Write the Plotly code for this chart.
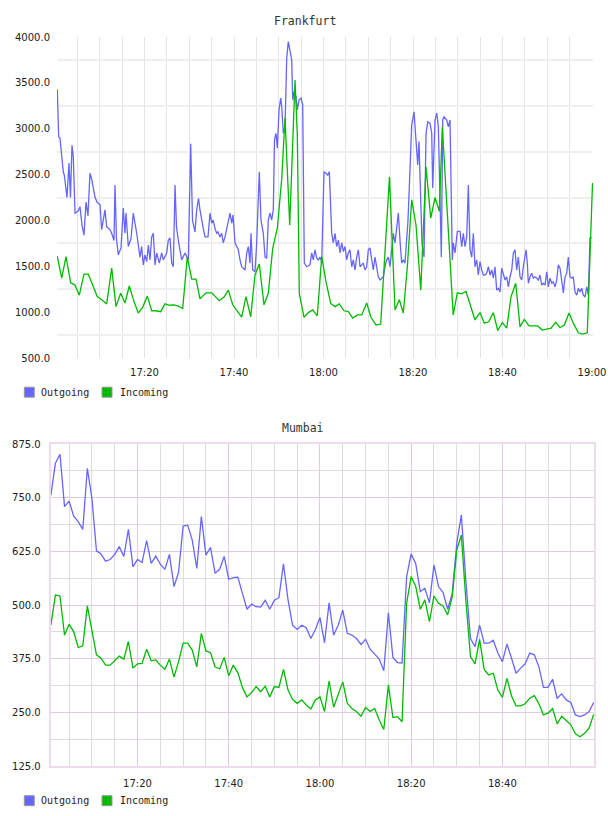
import pandas as pd
import plotly.graph_objects as go

# ---------------- data ----------------
BASE = "2024-01-01 17:00"

# Frankfurt, minutes after 17:00
fra_out_min = [0.51,0.83,1.12,1.50,1.85,2.08,2.39,2.68,3.13,3.46,
3.80,4.09,4.47,5.14,5.59,6.03,6.48,6.93,7.37,7.82,
8.20,8.94,9.39,10.06,10.44,11.17,11.55,12.29,12.67,13.18,
13.41,13.74,14.15,14.75,15.26,15.64,15.87,16.38,16.98,17.50,
18.26,18.99,19.37,19.73,20.11,20.49,20.85,21.23,21.61,21.97,
22.35,22.73,23.31,23.84,24.20,24.96,25.32,25.70,26.08,26.44,
26.82,27.15,27.55,28.31,29.05,29.79,30.32,30.73,31.28,31.66,
32.07,32.40,33.07,33.52,34.19,34.64,35.02,35.31,35.75,36.13,
36.42,36.87,37.25,37.61,37.99,38.73,39.11,39.49,39.78,40.22,
40.60,40.96,41.34,41.72,42.46,42.84,43.20,43.58,43.80,44.18,
44.69,45.07,45.65,46.03,46.55,46.93,47.31,47.66,48.04,48.42,
48.78,49.05,49.39,49.68,50.06,50.44,50.66,51.02,51.40,51.78,
52.13,52.51,52.89,53.12,53.41,53.85,54.15,54.53,54.97,55.35,
55.71,56.25,56.98,57.36,57.72,58.10,58.48,58.84,59.22,59.60,
60.11,60.56,60.94,61.30,61.83,62.19,62.57,62.95,63.31,63.69,
64.07,64.43,64.80,65.18,65.54,65.92,66.30,66.66,67.04,67.42,
67.78,68.16,68.89,69.27,69.65,70.01,70.39,70.77,71.13,71.51,
71.89,72.25,72.63,73.01,73.36,73.74,74.12,74.48,74.86,75.24,
75.60,75.98,76.36,76.72,77.09,77.47,77.83,78.21,78.88,79.71,
80.22,80.67,81.05,81.34,81.68,82.01,82.46,82.91,83.29,83.80,
84.18,84.40,84.92,85.30,85.66,86.03,86.33,86.64,86.93,87.53,
87.89,88.27,88.78,89.01,89.39,89.90,90.50,90.88,91.24,91.62,
92.00,92.36,92.74,93.12,93.48,93.85,94.23,94.59,94.97,95.35,
95.71,96.09,96.47,96.83,97.21,97.59,97.95,98.32,98.70,99.06,
99.44,99.82,100.18,100.56,100.94,101.30,101.68,102.06,102.42,102.79,
103.17,103.53,103.91,104.29,104.65,105.25,105.54,105.77,106.15,106.53,
106.88,107.26,107.64,108.00,108.38,108.76,109.12,109.50,109.88,110.24,
110.61,110.99,111.35,111.73,112.11,112.47,112.85,113.23,113.59,113.97,
114.35,114.70,115.08,115.46,115.82,116.20,116.58,116.94,117.32,117.70,
118.06,118.44,118.82,119.18,119.55,119.93]
fra_out_val = [3430,2913,2895,2660,2530,2495,2330,2250,2625,2250,
2820,2695,2080,2100,2150,1950,1840,2200,2050,2515,
2450,2255,2200,2170,1900,2115,1930,1900,1860,1780,
2385,1800,1625,1700,2135,1860,2080,1715,1800,2080,
1860,1600,1715,1515,1625,1550,1730,1570,1820,1860,
1515,1645,1535,1645,1570,1645,1785,1810,1535,1495,
2385,1930,1785,1570,1645,1570,2835,2000,1875,2115,
2240,2115,1930,1820,1820,2080,1970,2005,1915,1860,
1875,1820,1860,1755,1820,2005,2080,1970,2060,1755,
1715,1680,1570,1495,1460,1645,1715,1535,1860,1460,
1440,1755,2530,2000,1860,1600,1590,2005,2080,2005,
2115,2880,2950,2790,3205,3335,3240,2950,3020,3770,
3950,3825,3750,3315,3405,3350,3205,3315,3335,3260,
1535,1495,1515,1645,1570,1680,1590,1570,1600,1550,
2530,2515,2495,2530,1860,1755,1860,1715,1785,1645,
1755,1660,1715,1570,1645,1680,1495,1570,1460,1600,
1680,1495,1535,1460,1495,1680,1700,1570,1460,1600,
1495,1385,1350,1370,1385,1495,1570,1600,1495,1680,
1860,1755,1930,2080,1785,1535,1570,1535,2000,3040,
3185,2880,2605,2860,2115,1750,1600,2950,3075,3060,
2950,2355,3095,3170,3020,2060,1600,3095,3130,3095,
3020,3095,1570,1755,1645,1880,1880,1715,1860,1715,
1820,2385,1680,1600,1860,1495,1570,1405,1550,1460,
1405,1405,1425,1495,1405,1460,1370,1495,1240,1260,
1220,1480,1425,1350,1385,1275,1385,1460,1645,1680,
1460,1600,1385,1350,1495,1680,1535,1315,1385,1425,
1370,1385,1370,1350,1405,1295,1315,1295,1440,1275,
1370,1315,1330,1275,1350,1515,1480,1315,1210,1385,
1425,1600,1385,1370,1385,1220,1185,1260,1220,1260,
1185,1165,1275,1185,1810,1810]

fra_in_min = [0.51,1.50,2.46,3.51,4.47,5.43,6.48,7.44,8.42,9.45,
10.44,11.55,12.67,13.63,14.68,15.64,16.60,17.65,18.61,19.60,
20.63,21.61,22.57,23.62,24.58,25.54,26.59,27.55,28.54,29.56,
30.55,31.51,32.40,33.75,35.02,36.72,37.77,38.73,39.71,40.74,
41.72,42.68,43.73,44.69,45.65,46.70,47.66,48.65,49.68,50.66,
51.40,52.45,53.63,54.15,54.59,55.64,56.61,57.59,58.61,59.60,
60.56,61.61,62.57,63.53,64.58,65.54,66.53,67.55,68.54,69.65,
70.55,71.73,72.78,74.74,75.98,76.94,77.83,78.73,79.71,80.67,
81.73,82.91,83.96,84.92,85.88,86.55,88.98,89.90,90.88,91.84,
93.85,94.97,95.93,96.91,97.94,98.93,99.96,100.94,101.90,102.95,
103.91,104.87,105.92,106.88,107.87,108.89,109.88,110.84,111.89,112.85,
113.81,114.86,115.82,116.94,117.92,118.94,120.11]
fra_in_val = [1610,1370,1605,1320,1295,1185,1415,1415,1295,1170,
1135,1090,1480,1060,1205,1100,1285,1115,990,1055,
1175,1015,1015,1005,1090,1075,1080,1065,1040,1600,
1360,1360,1145,1210,1210,1125,1165,1240,1080,1015,
945,1170,950,1405,1525,1080,1205,1695,1915,2450,
3115,1950,3530,2930,1205,945,995,1025,960,1605,
1330,1095,1060,1090,1015,1005,935,970,970,1100,
950,860,870,2475,1025,1135,990,1495,2225,1950,
1240,2585,2025,2250,2100,3020,970,1210,1200,1225,
915,995,880,895,995,800,885,825,1170,1315,
840,920,850,850,850,805,815,825,890,830,
860,990,880,775,760,775,2408]

# Mumbai, one sample per minute from 17:01 to 19:00
mum_min = list(range(1, 121))
mum_out = [756,830,851,729,742,707,694,676,818,749,
626,619,602,606,618,636,613,676,589,606,
599,650,597,614,595,583,618,543,576,684,
686,651,585,706,616,634,574,583,613,560,
564,565,527,490,502,496,495,511,490,511,
517,596,512,453,443,453,447,422,443,471,
412,505,430,453,488,434,430,422,408,420,
397,385,374,347,482,378,366,365,566,619,
596,531,539,505,593,543,529,490,527,644,
710,554,422,403,453,411,411,418,388,368,
409,376,341,353,363,388,384,356,308,308,
327,283,293,279,273,244,240,244,252,273]
mum_in = [453,523,521,430,455,438,401,405,498,442,
384,376,360,360,370,381,374,415,353,363,
364,397,370,372,360,350,374,332,368,411,
411,395,356,434,393,389,356,351,378,335,
360,342,308,286,296,310,298,311,286,310,
308,350,302,280,271,279,267,258,279,286,
252,323,262,291,321,271,259,252,241,261,
252,259,232,210,314,238,240,228,504,566,
543,490,512,461,521,504,498,477,519,628,
663,510,380,363,420,350,337,341,302,285,
329,288,265,265,270,283,289,270,244,248,
259,223,241,231,221,200,193,201,213,245]

series_names = ["Outgoing", "Incoming"]
series_colors = ["#6666ff", "#00bb00"]

fra_yticks = [500, 1000, 1500, 2000, 2500, 3000, 3500, 4000]
mum_yticks = [125, 250, 375, 500, 625, 750, 875]


def to_time(mins):
    return pd.Timestamp(BASE) + pd.to_timedelta(mins, unit="min")


W, H = 608, 816
def px(x): return x / W
def py(y): return 1 - y / H

fig = go.Figure()
fig.add_trace(go.Scatter(x=to_time(fra_out_min), y=fra_out_val, mode="lines",
                         line=dict(color=series_colors[0], width=1.3),
                         name=series_names[0], showlegend=False, xaxis="x", yaxis="y"))
fig.add_trace(go.Scatter(x=to_time(fra_in_min), y=fra_in_val, mode="lines",
                         line=dict(color=series_colors[1], width=1.3),
                         name=series_names[1], showlegend=False, xaxis="x", yaxis="y"))
fig.add_trace(go.Scatter(x=to_time(mum_min), y=mum_out, mode="lines",
                         line=dict(color=series_colors[0], width=1.3),
                         name=series_names[0], showlegend=False, xaxis="x2", yaxis="y2"))
fig.add_trace(go.Scatter(x=to_time(mum_min), y=mum_in, mode="lines",
                         line=dict(color=series_colors[1], width=1.3),
                         name=series_names[1], showlegend=False, xaxis="x2", yaxis="y2"))

tickfont = dict(family="DejaVu Sans", size=10, color="#222")
t0 = pd.Timestamp(BASE)

fig.update_layout(
    width=W, height=H, margin=dict(l=0, r=0, t=0, b=0, autoexpand=False),
    paper_bgcolor="white", plot_bgcolor="white",
    xaxis=dict(domain=[px(57), px(593)], anchor="y", type="date", automargin=False,
               range=[t0 + pd.Timedelta(seconds=27), t0 + pd.Timedelta(minutes=120, seconds=13)],
               tick0=t0, dtick=20 * 60 * 1000, tickformat="%H:%M",
               showgrid=True, gridcolor="#e4e4e4", gridwidth=1,
               minor=dict(dtick=5 * 60 * 1000, showgrid=True, gridcolor="#e4e4e4", gridwidth=1),
               showline=False, zeroline=False, ticks="", tickfont=tickfont,
               ticklabelstandoff=7),
    yaxis=dict(domain=[py(358), py(37)], anchor="x", range=[500, 4000], automargin=False,
               tickvals=fra_yticks, ticktext=[f"{v:.1f}" for v in fra_yticks],
               showgrid=False,
               minor=dict(tickvals=[750, 1250, 1750, 2250, 2750, 3250, 3750],
                          showgrid=True, gridcolor="#efefef", gridwidth=2),
               zeroline=False, showline=False, ticks="", tickfont=tickfont,
               ticklabelstandoff=6),
    xaxis2=dict(domain=[px(50.7), px(594)], anchor="y2", type="date", automargin=False,
                range=[t0 + pd.Timedelta(seconds=58), t0 + pd.Timedelta(minutes=120, seconds=5)],
                tick0=t0, dtick=20 * 60 * 1000, tickformat="%H:%M",
                showgrid=True, gridcolor="#e2c8e2", gridwidth=1,
                minor=dict(dtick=5 * 60 * 1000, showgrid=True, gridcolor="#dddddd", gridwidth=1),
                showline=True, linecolor="#eedcee", linewidth=2, mirror=True,
                zeroline=False, ticks="", tickfont=tickfont, ticklabelstandoff=7),
    yaxis2=dict(domain=[py(766), py(444)], anchor="x2", range=[125, 875], automargin=False,
                tickvals=mum_yticks, ticktext=[f"{v:.1f}" for v in mum_yticks],
                showgrid=True, gridcolor="#e2c8e2", gridwidth=1,
                minor=dict(tickvals=[187.5, 312.5, 437.5, 562.5, 687.5, 812.5],
                           showgrid=True, gridcolor="#dddddd", gridwidth=1),
                showline=True, linecolor="#eedcee", linewidth=2, mirror=True,
                zeroline=False, ticks="", tickfont=tickfont, ticklabelstandoff=6),
)

title_font = dict(family="DejaVu Sans Mono", size=11.5, color="#333")
legend_font = dict(family="DejaVu Sans Mono", size=10, color="#222")
annotations = [
    dict(text="Frankfurt", x=px(304.5), y=py(20.7), xref="paper", yref="paper",
         showarrow=False, xanchor="center", yanchor="middle", font=title_font),
    dict(text="Mumbai", x=px(303.3), y=py(428.3), xref="paper", yref="paper",
         showarrow=False, xanchor="center", yanchor="middle", font=title_font),
]
shapes = []
for ly in (392.2, 800.7):
    for i, (name, col, bx, tx) in enumerate(zip(series_names, series_colors, (24.3, 102), (39, 118))):
        shapes.append(dict(type="rect", xref="paper", yref="paper",
                           x0=px(bx), x1=px(bx + 10), y0=py(ly + 5), y1=py(ly - 5),
                           fillcolor=col, line=dict(color="#999999", width=1)))
        annotations.append(dict(text=name, x=px(tx), y=py(ly), xref="paper", yref="paper",
                                showarrow=False, xanchor="left", yanchor="middle",
                                font=legend_font))
fig.update_layout(annotations=annotations, shapes=shapes)

fig.write_html("out.html")
